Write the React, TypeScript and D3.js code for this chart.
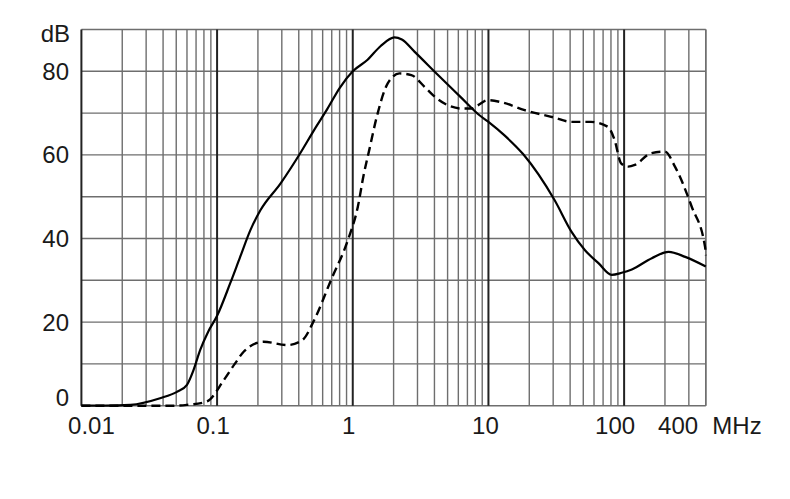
import React from "react";
import * as d3 from "d3";

const yTicks = [0, 20, 40, 60, 80];
const xTickLabels = ["0.01", "0.1", "1", "10", "100", "400"];
const xTickValues = [0.01, 0.1, 1, 10, 100, 250];
const xLabelShift = [10, -4, -4, -3, -9, 0];

const solidFreq = [0.01, 0.015, 0.023, 0.038, 0.0506, 0.06, 0.067, 0.075, 0.086, 0.1, 0.125, 0.148, 0.176, 0.209, 0.294, 0.41, 0.52, 0.65, 0.8, 1.0, 1.28, 1.6, 2.03, 2.3, 2.85, 4.25, 6.3, 8.5, 10, 13.2, 18, 30.7, 41, 51.5, 64.7, 81, 96, 114, 160, 213, 282, 400];
const solidDb = [0, 0, 0.2, 1.8, 3.3, 5, 8.5, 13.3, 17.7, 21.5, 29.3, 35.6, 42, 46.8, 53.2, 60.4, 66, 71, 76, 80, 82.7, 86, 88.1, 87.6, 84.7, 79.1, 73.7, 69.6, 67.9, 64.6, 60.2, 49.2, 41.6, 37.2, 34.1, 31.3, 31.8, 32.6, 35.3, 36.8, 35.6, 33.3];

const dashFreq = [0.01, 0.048, 0.06, 0.084, 0.112, 0.135, 0.157, 0.22, 0.33, 0.425, 0.52, 0.69, 0.92, 1.09, 1.2, 1.33, 1.5, 1.81, 2.21, 2.7, 3.38, 3.9, 5.0, 6.3, 7.5, 8.4, 9.9, 12.5, 18.5, 30, 41, 57, 76, 85, 95, 107, 120, 158, 200, 237, 315, 395, 400];
const dashDb = [0, 0, 0.2, 1, 6.1, 10, 12.9, 15.3, 14.5, 15.7, 20.5, 30, 39.6, 47.6, 55, 61.5, 69, 77.1, 79.5, 79.1, 76.3, 74.3, 71.9, 71.1, 71.1, 71.9, 73.1, 72.6, 70.7, 69, 67.9, 67.9, 66.7, 63.6, 58, 57.2, 57.6, 60.4, 60.8, 57.2, 47.6, 38, 36];

export default function App() {
  const W = 790, H = 499;
  const left = 81.4, right = 705.8, top = 29.5, bottom = 405.7;
  const x = d3.scaleLog().domain([0.01, 400]).range([left, right]);
  const y = d3.scaleLinear().domain([0, 90]).range([bottom, top]);

  const vLines: { v: number; major: boolean }[] = [];
  for (let e = -2; e <= 2; e++) {
    for (let k = 1; k <= 9; k++) {
      const v = k * Math.pow(10, e);
      if (v > 400.001) break;
      vLines.push({ v, major: k === 1 });
    }
  }
  vLines.push({ v: 400, major: false });
  const hLines = d3.range(0, 91, 10);

  const line = d3
    .line<[number, number]>()
    .x((d) => x(d[0]))
    .y((d) => y(d[1]))
    .curve(d3.curveMonotoneX);
  const solid = line(solidFreq.map((f, i) => [f, solidDb[i]]) as [number, number][]);
  const dashed = line(dashFreq.map((f, i) => [f, dashDb[i]]) as [number, number][]);

  const font = "'Liberation Sans', Arial, sans-serif";

  return (
    <svg width={W} height={H} style={{ position: "absolute", left: 0, top: 0, background: "#fff" }} fontFamily={font}>
      <rect width={W} height={H} fill="#fff" />
      {hLines.map((v) => (
        <line key={"h" + v} x1={left} x2={right} y1={y(v)} y2={y(v)} stroke="#6e6e6e" strokeWidth={1.4} />
      ))}
      {vLines.map((l, i) => (
        <line
          key={"v" + i}
          x1={x(l.v)}
          x2={x(l.v)}
          y1={top}
          y2={bottom}
          stroke={l.major ? "#222" : "#6e6e6e"}
          strokeWidth={l.major ? 2 : 1.4}
        />
      ))}
      <path d={solid || ""} fill="none" stroke="#000" strokeWidth={2.2} />
      <path d={dashed || ""} fill="none" stroke="#000" strokeWidth={2.4} strokeDasharray="9,5" />
      {yTicks.map((v) => (
        <text key={"yt" + v} x={69} y={y(v) - (v === 0 ? 8 : 0)} textAnchor="end" dominantBaseline="central" fontSize={24} fill="#1a1a1a">
          {v}
        </text>
      ))}
      <text x={70} y={33} textAnchor="end" dominantBaseline="central" fontSize={24} fill="#1a1a1a">dB</text>
      {xTickValues.map((v, i) => (
        <text key={"xt" + i} x={x(v) + xLabelShift[i]} y={434} textAnchor="middle" fontSize={24} fill="#1a1a1a">
          {xTickLabels[i]}
        </text>
      ))}
      <text x={737} y={434} textAnchor="middle" fontSize={24} fill="#1a1a1a">MHz</text>
    </svg>
  );
}
